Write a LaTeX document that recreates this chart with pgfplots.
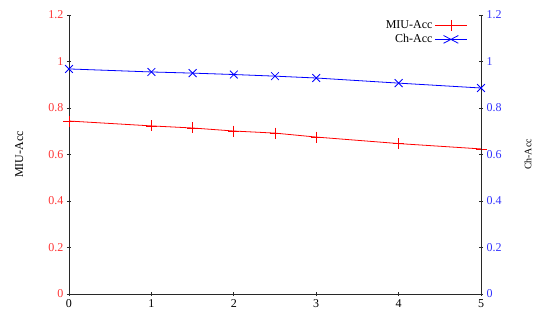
\documentclass[border=0pt]{standalone}
\usepackage{pgfplots}
\pgfplotsset{compat=1.18}
\usepackage{fontspec}
\setmainfont{Liberation Serif}
\definecolor{myred}{RGB}{255,0,0}
\definecolor{myblue}{RGB}{0,0,255}
\definecolor{axgray}{RGB}{40,40,40}
\begin{document}
\begin{tikzpicture}
\useasboundingbox (-69bp,-29bp) rectangle (468bp,294bp);
\pgfplotsset{
  common/.style={
    at={(0,0)}, anchor=south west,
    scale only axis, width=412bp, height=279bp,
    xmin=0, xmax=5, ymin=0, ymax=1.2,
    ytick={0,0.2,...,1.2},
    yticklabel style={/pgf/number format/fixed},
    /pgf/number format/assume math mode=true,
    tick label style={font=\fontsize{12bp}{14bp}\selectfont},
    label style={font=\fontsize{12bp}{14bp}\selectfont},
    axis line style={axgray, line width=0.9pt},
    major tick length=4bp,
    tick style={axgray, line width=0.9pt},
    tick align=outside,
  },
  redser/.style={myred, line width=0.8pt, mark=+, mark size=5.5bp, mark options={myred, line width=0.8pt}},
  blueser/.style={myblue, line width=0.8pt, mark=x, mark size=5.5bp, mark options={myblue, line width=0.8pt}},
}
\begin{axis}[common,
  axis x line=bottom, axis y line=left,
  axis line style={-},
  xtick={0,1,2,3,4,5},
  yticklabel style={text=myred!80},
  ylabel={MIU-Acc},
  ylabel style={at={(axis description cs:-0.121,0.5)}, anchor=center},
  legend style={draw=none, fill=none, at={(axis description cs:0.975,0.995)}, anchor=north east,
    font=\fontsize{12bp}{14bp}\selectfont, row sep=0.5bp,
    /tikz/every even column/.append style={column sep=2bp}},
  legend cell align=right,
  legend plot pos=right,
  legend image post style={xscale=1.9},
]
\addplot[redser] coordinates {
(0,0.744) (1,0.723) (1.5,0.714) (2,0.701) (2.5,0.692) (3,0.675) (4,0.647) (5,0.624)};
\addlegendentry{MIU-Acc}
\addlegendimage{blueser}
\addlegendentry{Ch-Acc}
\end{axis}
\begin{axis}[common,
  axis x line=none, axis y line=right,
  axis line style={-},
  yticklabel style={text=myblue!80},
  ylabel={Ch-Acc},
  ylabel style={at={(axis description cs:1.114,0.5)}, anchor=center, rotate=0},
]
\addplot[blueser] coordinates {
(0,0.968) (1,0.955) (1.5,0.950) (2,0.944) (2.5,0.937) (3,0.929) (4,0.907) (5,0.886)};
\end{axis}
\end{tikzpicture}
\end{document}
